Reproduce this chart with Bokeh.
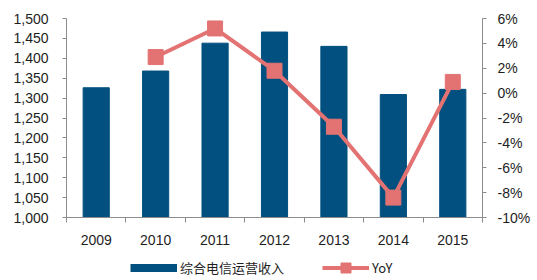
import numpy as np
from bokeh.plotting import figure
from bokeh.layouts import column
from bokeh.models import (Range1d, LinearAxis, FixedTicker, NumeralTickFormatter,
                          PrintfTickFormatter, Legend, LegendItem, ColumnDataSource)
from bokeh.embed import file_html
from bokeh.resources import INLINE

years = ["2009", "2010", "2011", "2012", "2013", "2014", "2015"]
revenue = [1326, 1368, 1438, 1466, 1430, 1309, 1322]
yoy_years = ["2010", "2011", "2012", "2013", "2014", "2015"]
yoy = [2.9, 5.2, 1.8, -2.7, -8.4, 0.9]
left_ticks = [1000, 1050, 1100, 1150, 1200, 1250, 1300, 1350, 1400, 1450, 1500]
right_ticks = [-10, -8, -6, -4, -2, 0, 2, 4, 6]
bar_label = "综合电信运营收入"
line_label = "YoY"

BLUE = "#01507f"
PINK = "#e37373"
AXIS = "#8c8c8c"
TXT = "#1e1e1e"
FONT = "Liberation Sans"

xpos = {y: i + 0.5 for i, y in enumerate(years)}
bar_src = ColumnDataSource(dict(x=[xpos[y] for y in years], top=revenue))
line_src = ColumnDataSource(dict(x=[xpos[y] for y in yoy_years], y=yoy))

p = figure(width=537, height=250, output_backend="svg", toolbar_location=None,
           x_range=Range1d(0, len(years)), y_range=Range1d(1000, 1500),
           min_border_left=66, min_border_right=55, min_border_top=18, min_border_bottom=33)
p.extra_y_ranges = {"pct": Range1d(-10, 6)}
p.outline_line_color = None
p.xgrid.visible = False
p.ygrid.visible = False
p.background_fill_color = "white"
p.border_fill_color = "white"

bars = p.vbar(x="x", top="top", bottom=1000, width=0.44, source=bar_src,
              fill_color=BLUE, line_color=BLUE)
ln = p.line(x="x", y="y", source=line_src, y_range_name="pct",
            line_color=PINK, line_width=4)
mk = p.scatter(x="x", y="y", source=line_src, y_range_name="pct", marker="square",
               size=15, fill_color=PINK, line_color=PINK)

# x axis
xa = p.xaxis[0]
xa.ticker = FixedTicker(ticks=[xpos[y] for y in years], minor_ticks=list(range(len(years) + 1)))
xa.major_label_overrides = {xpos[y]: y for y in years}
xa.major_tick_out = 0
xa.major_tick_in = 0
xa.minor_tick_out = 5
xa.minor_tick_in = 0
xa.major_label_standoff = 12

# left axis
ya = p.yaxis[0]
ya.ticker = FixedTicker(ticks=left_ticks)
ya.formatter = NumeralTickFormatter(format="0,0")
ya.major_tick_out = 4
ya.major_tick_in = 0
ya.minor_tick_out = 0
ya.minor_tick_in = 0
ya.major_label_standoff = 14

# right axis
ra = LinearAxis(y_range_name="pct", ticker=FixedTicker(ticks=right_ticks),
                formatter=PrintfTickFormatter(format="%d%%"))
ra.major_tick_out = 4
ra.major_tick_in = 0
ra.minor_tick_out = 0
ra.minor_tick_in = 0
ra.major_label_standoff = 11
p.add_layout(ra, "right")

for ax in [xa, ya, ra]:
    ax.axis_line_color = AXIS
    ax.major_tick_line_color = AXIS
    ax.minor_tick_line_color = AXIS
    ax.major_label_text_font = FONT
    ax.major_label_text_font_size = "14px"
    ax.major_label_text_color = TXT

# legend strip below the chart (its keys reuse the data, kept outside this strip's view)
lp = figure(width=537, height=30, output_backend="svg", toolbar_location=None,
            x_range=Range1d(-100, -99), y_range=Range1d(-100, -99),
            x_axis_type=None, y_axis_type=None,
            min_border_left=66, min_border_right=55, min_border_top=0, min_border_bottom=0)
lp.outline_line_color = None
lp.xgrid.visible = False
lp.ygrid.visible = False
lp.background_fill_color = "white"
lp.border_fill_color = "white"
bar_key = lp.line(x="x", y="top", source=bar_src, line_color=BLUE, line_width=8, line_cap="butt")
line_key = lp.line(x="x", y="y", source=line_src, line_color=PINK, line_width=4)
mark_key = lp.scatter(x="x", y="y", source=line_src, marker="square",
                      fill_color=PINK, line_color=PINK)

leg = Legend(items=[LegendItem(label=bar_label, renderers=[bar_key]),
                    LegendItem(label=line_label, renderers=[line_key, mark_key])],
             orientation="horizontal", location=(64, 0),
             glyph_width=47, glyph_height=25, label_height=25,
             label_standoff=3, padding=0, margin=0, spacing=38,
             border_line_color=None, background_fill_alpha=0,
             label_text_font="Noto Sans CJK SC", label_text_font_size="13px",
             label_text_color=TXT)
lp.add_layout(leg, "center")

layout = column(p, lp, spacing=0)
open("out.html", "w").write(file_html(layout, INLINE))
